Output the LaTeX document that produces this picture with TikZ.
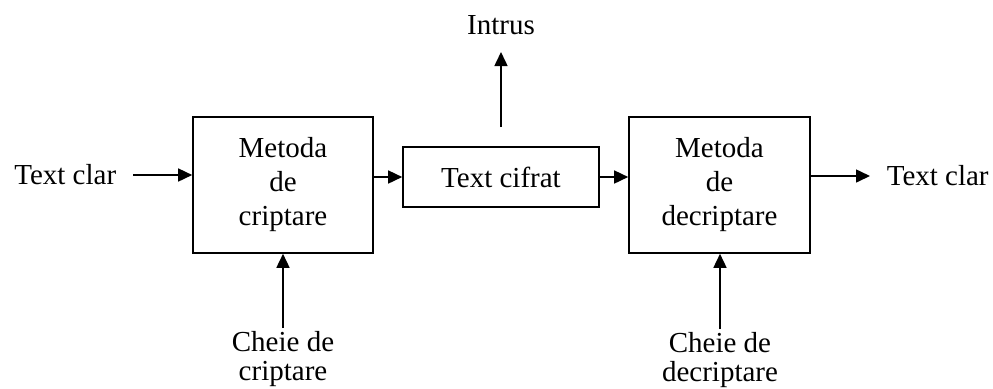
\documentclass[tikz,border=0pt]{standalone}
\usepackage{fontspec}
\setmainfont{Liberation Serif}
\usetikzlibrary{arrows.meta}
\tikzset{>={Triangle[length=7pt,width=6.5pt]}}
\tikzset{blk/.style={draw,align=center,inner sep=0pt}}
\tikzset{lbl/.style={inner sep=8pt,align=center}}
\tikzset{key/.style={lbl,anchor=north,inner sep=1.5pt,font=\fontsize{14.5}{14.5}\selectfont}}

\begin{document}
\begin{tikzpicture}[x=.5pt,y=-.5pt,line width=.8pt,font=\fontsize{14.5}{17}\selectfont]
    \useasboundingbox (0,0) rectangle (993,388);
    \node[blk,minimum width=90pt,minimum height=68pt] (B1) at (283,185) {Metoda\\de\\criptare};
    \node[blk,minimum width=98pt,minimum height=30pt] (B2) at (501,177) {Text cifrat};
    \node[blk,minimum width=90.5pt,minimum height=68pt] (B3) at (719.5,185) {Metoda\\de\\decriptare};
    \node[lbl,anchor=east] (T1) at (133,175) {Text clar};
    \node[lbl,anchor=west] (T2) at (870,176) {Text clar};
    \node[lbl,anchor=south] (I) at (501,52) {Intrus};
    \node[key] (K1) at (283,328) {Cheie de\\criptare};
    \node[key] (K2) at (720,329) {Cheie de\\decriptare};
    \coordinate (I0) at (501,127);
    \draw[->] (T1) -- (T1 -| B1.west);
    \draw[->] (B1.east |- B2) -- (B2);
    \draw[->] (B2) -- (B2 -| B3.west);
    \draw[->] (B3.east |- T2) -- (T2);
    \draw[->] (I0) -- (I);
    \draw[->] (K1) -- (K1 |- B1.south);
    \draw[->] (K2) -- (K2 |- B3.south);
  \end{tikzpicture}
\end{document}
